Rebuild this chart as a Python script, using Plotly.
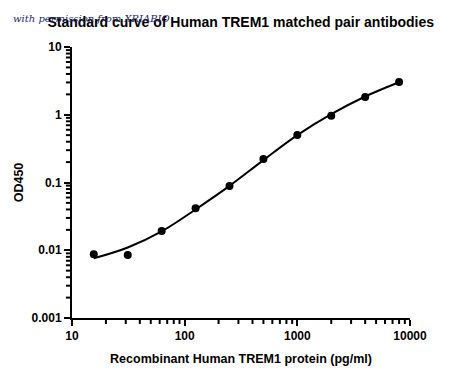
import plotly.graph_objects as go

conc = [15.6, 31.25, 62.5, 125, 250, 500, 1000, 2000, 4000, 8000]
od450 = [0.0087, 0.0085, 0.0192, 0.0416, 0.0888, 0.222, 0.502, 0.968, 1.83, 3.04]

# Fitted curve
curve_x = [15.6, 31.25, 62.5, 125, 250, 500, 1000, 2000, 4000, 8000]
curve_y = [0.0076, 0.011, 0.019, 0.040, 0.089, 0.214, 0.50, 1.02, 1.86, 3.02]

ytick_vals = [0.001, 0.01, 0.1, 1, 10]
ytick_text = ["<b>0.001</b>", "<b>0.01</b>", "<b>0.1</b>", "<b>1</b>", "<b>10</b>"]
xtick_vals = [10, 100, 1000, 10000]
xtick_text = ["<b>10</b>", "<b>100</b>", "<b>1000</b>", "<b>10000</b>"]

# minor tick positions (axis values)
x_minor = [m * d for d in [10, 100, 1000] for m in range(2, 10)]
y_minor = [m * d for d in [0.001, 0.01, 0.1, 1] for m in range(2, 10)]

FONT = "Liberation Sans, Arial, sans-serif"

fig = go.Figure()
fig.add_trace(go.Scatter(x=curve_x, y=curve_y, mode="lines",
                         line=dict(color="black", width=2, shape="spline", smoothing=1.0),
                         hoverinfo="skip", showlegend=False))
fig.add_trace(go.Scatter(x=conc, y=od450, mode="markers",
                         marker=dict(color="black", size=8),
                         showlegend=False))

# minor tick marks, placed on the axes' own data scales
minor_shapes = []
for v in y_minor:
    minor_shapes.append(dict(type="line", xref="paper", yref="y", x0=-0.018, x1=0, y0=v, y1=v,
                             line=dict(color="black", width=2), layer="above"))
for v in x_minor:
    minor_shapes.append(dict(type="line", xref="x", yref="paper", x0=v, x1=v, y0=-0.022, y1=0,
                             line=dict(color="black", width=2), layer="above"))

fig.update_layout(
    width=450, height=375,
    margin=dict(l=72, r=40, t=47, b=57, autoexpand=False),
    paper_bgcolor="white", plot_bgcolor="white",
    title=dict(text="<b>Standard curve of Human TREM1 matched pair antibodies</b>",
               x=0.535, xanchor="center", y=0.94, yanchor="middle",
               font=dict(family=FONT, size=14, color="black")),
    font=dict(family=FONT, color="black"),
    shapes=minor_shapes,
    annotations=[dict(text="with permission from XRIABIO", xref="paper", yref="paper",
                      x=-0.18, y=1.105, xanchor="left", yanchor="middle", showarrow=False,
                      font=dict(family="DejaVu Serif, serif", size=10, color="#1b2a6b", style="italic"))],
)

fig.update_xaxes(type="log", range=[1, 4], showgrid=False, zeroline=False,
                 showline=True, linecolor="black", linewidth=2,
                 ticks="outside", ticklen=6, tickwidth=2, tickcolor="black",
                 tickvals=xtick_vals, ticktext=xtick_text,
                 tickfont=dict(family=FONT, size=12, color="black"),
                 title=dict(text="<b>Recombinant Human TREM1 protein (pg/ml)</b>",
                            font=dict(family=FONT, size=12.5, color="black"), standoff=12))

fig.update_yaxes(type="log", range=[-3, 1], showgrid=False, zeroline=False,
                 showline=True, linecolor="black", linewidth=2,
                 ticks="outside", ticklen=6, tickwidth=2, tickcolor="black",
                 tickvals=ytick_vals, ticktext=ytick_text,
                 tickfont=dict(family=FONT, size=12, color="black"),
                 title=dict(text="<b>OD450</b>",
                            font=dict(family=FONT, size=12.5, color="black"), standoff=5))

fig.write_html("out.html", config={"displayModeBar": False},
               post_script="document.body.style.margin='0';")
